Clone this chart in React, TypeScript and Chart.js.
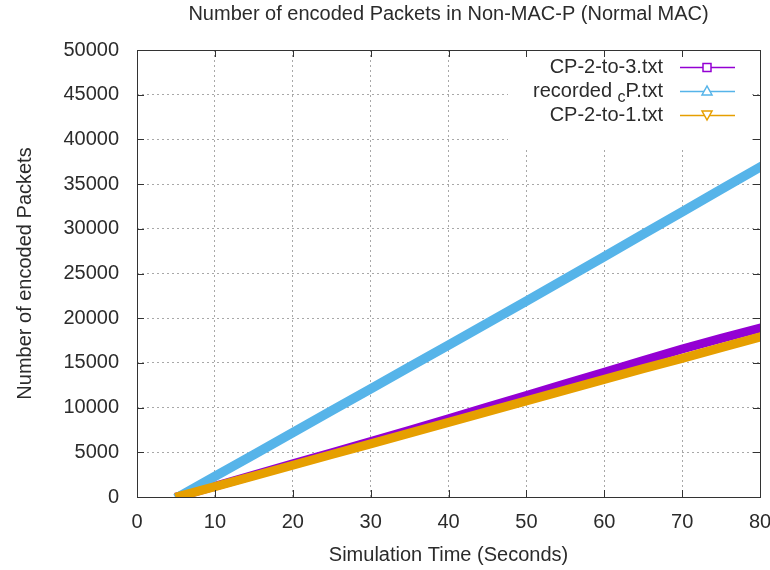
import React, { useEffect, useRef } from "react";
import { Chart, registerables } from "chart.js";

Chart.register(...registerables);

const chartTitle = "Number of encoded Packets in Non-MAC-P (Normal MAC)";
const xTitle = "Simulation Time (Seconds)";
const yTitle = "Number of encoded Packets";

const timeSeconds = [5.5, 10, 15, 20, 25, 30, 35, 40, 45, 50, 55, 60, 65, 70, 75, 80];
const cp23Values = [100, 1200, 2450, 3700, 4950, 6200, 7450, 8750, 10050, 11350, 12650, 13950, 15250, 16550, 17750, 18900];
const recordedValues = [100, 2300, 4750, 7200, 9650, 12100, 14550, 17000, 19450, 21900, 24400, 26900, 29400, 31900, 34400, 36900];
const cp21Values = [100, 1150, 2350, 3550, 4750, 5950, 7150, 8350, 9550, 10750, 11950, 13150, 14350, 15500, 16700, 17900];

const xTicks = [0, 10, 20, 30, 40, 50, 60, 70, 80];
const yTicks = [0, 5000, 10000, 15000, 20000, 25000, 30000, 35000, 40000, 45000, 50000];

const PURPLE = "#9400d3";
const BLUE = "#56b4e9";
const ORANGE = "#e69f00";
const TEXT = "#2b2b2b";
const FONT = "'Liberation Sans', Arial, sans-serif";
const FS = 20;

const toPts = (vals: number[]) => vals.map((v, i) => ({ x: timeSeconds[i], y: v }));

const gnuplotPlugin = {
  id: "gnuplotDeco",
  beforeDraw(chart: any) {
    const { ctx, width, height } = chart;
    ctx.save();
    ctx.fillStyle = "#ffffff";
    ctx.fillRect(0, 0, width, height);
    ctx.restore();
  },
  afterDraw(chart: any) {
    const { ctx, chartArea } = chart;
    const xs = chart.scales.x;
    const ys = chart.scales.y;
    const { left, right, top, bottom } = chartArea;
    ctx.save();
    // legend box (opaque)
    ctx.fillStyle = "#ffffff";
    ctx.fillRect(508, 53, 243, 94);

    // border
    ctx.strokeStyle = "#333333";
    ctx.lineWidth = 1;
    ctx.strokeRect(Math.round(left) + 0.5, Math.round(top) + 0.5, Math.round(right - left), Math.round(bottom - top));
    // inward ticks
    const tl = 7;
    ctx.beginPath();
    xTicks.forEach((t) => {
      const px = Math.round(xs.getPixelForValue(t)) + 0.5;
      ctx.moveTo(px, bottom);
      ctx.lineTo(px, bottom - tl);
      ctx.moveTo(px, top);
      ctx.lineTo(px, top + tl);
    });
    yTicks.forEach((t) => {
      const py = Math.round(ys.getPixelForValue(t)) + 0.5;
      ctx.moveTo(left, py);
      ctx.lineTo(left + tl, py);
      ctx.moveTo(right, py);
      ctx.lineTo(right - tl, py);
    });
    ctx.stroke();

    // title
    ctx.fillStyle = TEXT;
    ctx.font = `${FS}px ${FONT}`;
    ctx.textAlign = "center";
    ctx.textBaseline = "middle";
    ctx.fillText(chartTitle, (left + right) / 2, 14);

    // legend
    const textRight = 663;
    const lx1 = 680;
    const lx2 = 735;
    const mx = 707;
    const rows = [
      { y: 67, color: PURPLE, marker: "square", label: "CP-2-to-3.txt" },
      { y: 91, color: BLUE, marker: "up", label: "recorded_cP.txt" },
      { y: 115, color: ORANGE, marker: "down", label: "CP-2-to-1.txt" },
    ];
    rows.forEach((r) => {
      ctx.fillStyle = TEXT;
      ctx.textBaseline = "middle";
      if (r.label.includes("_")) {
        const [pre, rest] = r.label.split("_");
        const sub = rest.charAt(0);
        const post = rest.slice(1);
        ctx.font = `${FS}px ${FONT}`;
        const wPre = ctx.measureText(pre + " ").width;
        const wPost = ctx.measureText(post).width;
        ctx.font = `16px ${FONT}`;
        const wSub = ctx.measureText(sub).width;
        let x = textRight - wPre - wSub - wPost;
        ctx.textAlign = "left";
        ctx.font = `${FS}px ${FONT}`;
        ctx.fillText(pre, x, r.y);
        x += wPre;
        ctx.font = `16px ${FONT}`;
        ctx.fillText(sub, x, r.y + 7);
        x += wSub;
        ctx.font = `${FS}px ${FONT}`;
        ctx.fillText(post, x, r.y);
      } else {
        ctx.font = `${FS}px ${FONT}`;
        ctx.textAlign = "right";
        ctx.fillText(r.label, textRight, r.y);
      }
      ctx.strokeStyle = r.color;
      ctx.lineWidth = 1.5;
      ctx.beginPath();
      ctx.moveTo(lx1, r.y + 0.5);
      ctx.lineTo(lx2, r.y + 0.5);
      ctx.stroke();
      ctx.fillStyle = "#ffffff";
      ctx.beginPath();
      if (r.marker === "square") {
        ctx.rect(mx - 4, r.y - 3.5, 8, 8);
      } else if (r.marker === "up") {
        ctx.moveTo(mx, r.y - 5);
        ctx.lineTo(mx - 5, r.y + 4);
        ctx.lineTo(mx + 5, r.y + 4);
        ctx.closePath();
      } else {
        ctx.moveTo(mx, r.y + 5);
        ctx.lineTo(mx - 5, r.y - 4);
        ctx.lineTo(mx + 5, r.y - 4);
        ctx.closePath();
      }
      ctx.fill();
      ctx.stroke();
    });
    ctx.restore();
  },
};

export default function App() {
  const canvasRef = useRef<HTMLCanvasElement | null>(null);

  useEffect(() => {
    document.body.style.margin = "0";
    const canvas = canvasRef.current;
    if (!canvas) return;
    const chart = new Chart(canvas, {
      type: "line",
      data: {
        datasets: [
          {
            label: "CP-2-to-3.txt",
            data: toPts(cp23Values),
            borderColor: PURPLE,
            backgroundColor: PURPLE,
            borderWidth: 9,
            pointRadius: 0,
            order: 3,
            borderCapStyle: "square",
          },
          {
            label: "recorded_cP.txt",
            data: toPts(recordedValues),
            borderColor: BLUE,
            backgroundColor: BLUE,
            borderWidth: 9.5,
            pointRadius: 0,
            order: 2,
            borderCapStyle: "square",
          },
          {
            label: "CP-2-to-1.txt",
            data: toPts(cp21Values),
            borderColor: ORANGE,
            backgroundColor: ORANGE,
            borderWidth: 9,
            pointRadius: 0,
            order: 1,
            borderCapStyle: "square",
          },
        ],
      },
      options: {
        responsive: false,
        animation: false,
        layout: { padding: { left: 0, top: 50, right: 10, bottom: 0 } },
        plugins: {
          legend: { display: false },
          title: { display: false },
          tooltip: { enabled: false },
        },
        scales: {
          x: {
            type: "linear",
            min: 0,
            max: 80,
            afterFit: (s: any) => {
              s.height = 73;
              s.paddingLeft = 0;
              s.paddingRight = 0;
            },
            afterBuildTicks: (s: any) => {
              s.ticks = xTicks.map((v) => ({ value: v }));
            },
            ticks: {
              font: { family: FONT, size: FS },
              color: TEXT,
              padding: 13,
              maxRotation: 0,
              autoSkip: false,
            },
            grid: {
              color: "#a8a8a8",
              lineWidth: 1,
              drawTicks: false,
              tickLength: 0,
            },
            border: { display: false, dash: [2, 3] },
            title: {
              display: true,
              text: xTitle,
              font: { family: FONT, size: FS },
              color: TEXT,
              padding: { top: 0, bottom: 3 },
            },
          },
          y: {
            type: "linear",
            min: 0,
            max: 50000,
            afterFit: (s: any) => {
              s.width = 137;
              s.paddingTop = 0;
              s.paddingBottom = 0;
            },
            afterBuildTicks: (s: any) => {
              s.ticks = yTicks.map((v) => ({ value: v }));
            },
            ticks: {
              font: { family: FONT, size: FS },
              color: TEXT,
              padding: 18,
              autoSkip: false,
              callback: (v: any) => String(v),
            },
            grid: {
              color: "#a8a8a8",
              lineWidth: 1,
              drawTicks: false,
              tickLength: 0,
            },
            border: { display: false, dash: [2, 3] },
            title: {
              display: true,
              text: yTitle,
              font: { family: FONT, size: FS },
              color: TEXT,
              padding: { top: 13, bottom: 0 },
            },
          },
        },
      },
      plugins: [gnuplotPlugin],
    } as any);
    return () => chart.destroy();
  }, []);

  return (
    <div style={{ width: 770, height: 570 }}>
      <canvas ref={canvasRef} width={770} height={570} />
    </div>
  );
}
